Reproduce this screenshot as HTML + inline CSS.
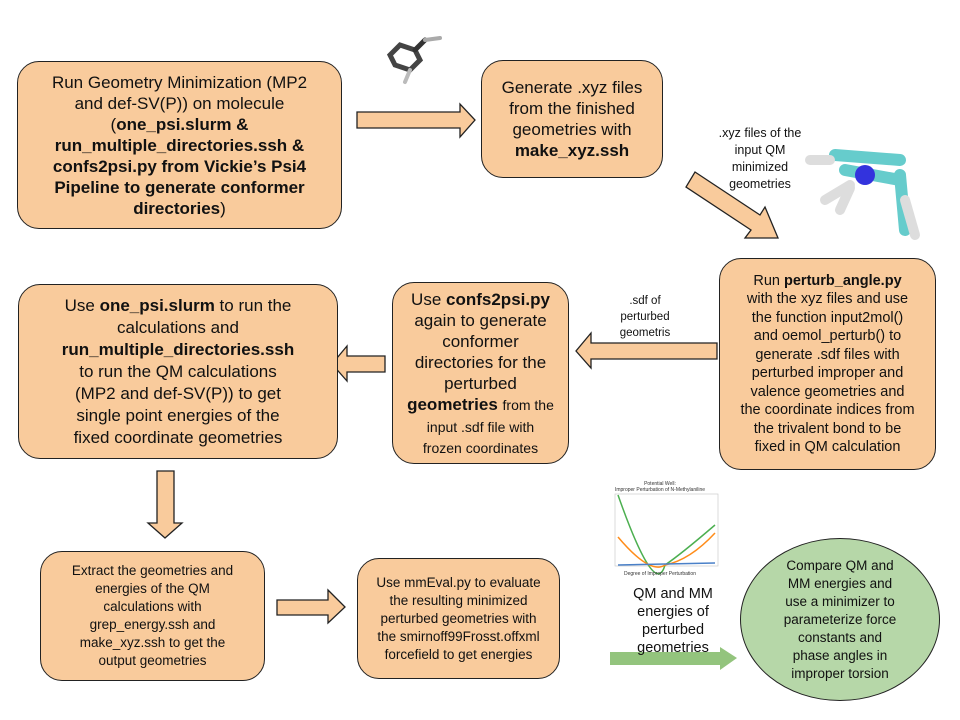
<!DOCTYPE html>
<html><head><meta charset="utf-8"><style>
body{margin:0;width:960px;height:720px;background:#fff;position:relative;overflow:hidden;font-family:"Liberation Sans",Arial,sans-serif;color:#111}
.b{position:absolute;background:#f9cb9c;border:1.5px solid #222;border-radius:22px;box-sizing:border-box;display:flex;align-items:center;justify-content:center;text-align:center;white-space:nowrap}
.t{position:absolute;text-align:center;white-space:nowrap}
b{font-weight:bold}
</style></head><body>
<svg width="960" height="720" style="position:absolute;left:0;top:0">
<g fill="#f9cb9c" stroke="#222" stroke-width="1.3">
<polygon points="357,112 460,112 460,104 475,120 460,137 460,128 357,128"/>
<polygon points="695,172 760,215 765,207 778,238 745,238 751,230 686,187"/>
<polygon points="717,343 591,343 591,333 576,351 591,368 591,359 717,359"/>
<polygon points="385,356 347,356 347,346 332,364 347,381 347,372 385,372"/>
<polygon points="157,471 174,471 174,523 182,523 165,538 148,523 157,523"/>
<polygon points="277,600 328,600 328,590 345,607 328,623 328,615 277,615"/>
</g>
<polygon points="610,652 720,652 720,647 737,658 720,670 720,665 610,665" fill="#93c47d"/>
<g stroke-linecap="round">
<polygon points="390,55 400,45 415,50 420,60 410,70 395,65" fill="none" stroke="#444" stroke-width="5"/>
<line x1="415" y1="50" x2="425" y2="40" stroke="#333" stroke-width="5"/>
<line x1="425" y1="40" x2="440" y2="38" stroke="#aaa" stroke-width="4"/>
<line x1="410" y1="70" x2="405" y2="82" stroke="#bbb" stroke-width="4"/>
</g>
<g stroke-linecap="round">
<line x1="835" y1="155" x2="900" y2="160" stroke="#66cccc" stroke-width="12"/>
<line x1="845" y1="170" x2="900" y2="180" stroke="#66cccc" stroke-width="12"/>
<circle cx="865" cy="175" r="10" fill="#3333dd"/>
<line x1="900" y1="175" x2="905" y2="230" stroke="#66cccc" stroke-width="12"/>
<line x1="905" y1="200" x2="915" y2="235" stroke="#ddd" stroke-width="10"/>
<line x1="850" y1="185" x2="825" y2="200" stroke="#ddd" stroke-width="10"/>
<line x1="850" y1="188" x2="840" y2="210" stroke="#ddd" stroke-width="10"/>
<line x1="830" y1="160" x2="810" y2="160" stroke="#ddd" stroke-width="10"/>
</g>
<rect x="588" y="480" width="140" height="96" fill="#fff"/>
<text x="660" y="485" font-size="5" text-anchor="middle" fill="#333" font-family="Liberation Sans">Potential Well:</text>
<text x="660" y="491" font-size="5" text-anchor="middle" fill="#333" font-family="Liberation Sans">Improper Perturbation of N-Methylaniline</text>
<rect x="615" y="494" width="103" height="72" fill="none" stroke="#ccc" stroke-width="0.7"/>
<path d="M618,495 Q655,600 665,565 Q680,555 715,525" fill="none" stroke="#4caf50" stroke-width="1.5"/>
<path d="M618,537 Q650,575 665,565 Q690,560 715,533" fill="none" stroke="#ff8c1a" stroke-width="1.5"/>
<line x1="618" y1="565" x2="715" y2="563" stroke="#4a80c8" stroke-width="1.5"/>
<text x="660" y="575" font-size="5" text-anchor="middle" fill="#333" font-family="Liberation Sans">Degree of Improper Perturbation</text>
</svg>

<div class="b" style="left:17px;top:61px;width:325px;height:168px;font-size:17px;line-height:21px">
<div>Run Geometry Minimization (MP2<br>and def-SV(P)) on molecule<br>(<b>one_psi.slurm &amp;<br>run_multiple_directories.ssh &amp;<br>confs2psi.py from Vickie’s Psi4<br>Pipeline to generate conformer<br>directories</b>)</div></div>

<div class="b" style="left:481px;top:60px;width:182px;height:118px;font-size:17px;line-height:21px">
<div>Generate .xyz files<br>from the finished<br>geometries with<br><b>make_xyz.ssh</b></div></div>

<div class="t" style="left:700px;top:125px;width:120px;font-size:12.5px;line-height:17px">.xyz files of the<br>input QM<br>minimized<br>geometries</div>

<div class="b" style="left:719px;top:258px;width:217px;height:212px;font-size:14.5px;line-height:18.5px">
<div>Run <b>perturb_angle.py</b><br>with the xyz files and use<br>the function input2mol()<br>and oemol_perturb() to<br>generate .sdf files with<br>perturbed improper and<br>valence geometries and<br>the coordinate indices from<br>the trivalent bond to be<br>fixed in QM calculation</div></div>

<div class="t" style="left:600px;top:293px;width:90px;font-size:11.5px;line-height:16px">.sdf of<br>perturbed<br>geometris</div>

<div class="b" style="left:392px;top:282px;width:177px;height:182px;font-size:17px;line-height:21px">
<div>Use <b>confs2psi.py</b><br>again to generate<br>conformer<br>directories for the<br>perturbed<br><b>geometries</b> <span style="font-size:14px">from the</span><br><span style="font-size:14px;line-height:18px">input .sdf file with<br>frozen coordinates</span></div></div>

<div class="b" style="left:18px;top:284px;width:320px;height:175px;font-size:17px;line-height:22px">
<div>Use <b>one_psi.slurm</b> to run the<br>calculations and<br><b>run_multiple_directories.ssh</b><br>to run the QM calculations<br>(MP2 and def-SV(P)) to get<br>single point energies of the<br>fixed coordinate geometries</div></div>

<div class="b" style="left:40px;top:551px;width:225px;height:130px;font-size:13.5px;line-height:18px">
<div>Extract the geometries and<br>energies of the QM<br>calculations with<br>grep_energy.ssh and<br>make_xyz.ssh to get the<br>output geometries</div></div>

<div class="b" style="left:357px;top:558px;width:203px;height:121px;font-size:13.5px;line-height:18px">
<div>Use mmEval.py to evaluate<br>the resulting minimized<br>perturbed geometries with<br>the smirnoff99Frosst.offxml<br>forcefield to get energies</div></div>

<div class="t" style="left:608px;top:585px;width:130px;font-size:14.5px;line-height:18px">QM and MM<br>energies of<br>perturbed<br>geometries</div>

<div class="b" style="left:740px;top:538px;width:200px;height:163px;border-radius:50%;background:#b6d7a8;font-size:13.5px;line-height:18px">
<div>Compare QM and<br>MM energies and<br>use a minimizer to<br>parameterize force<br>constants and<br>phase angles in<br>improper torsion</div></div>
</body></html>
